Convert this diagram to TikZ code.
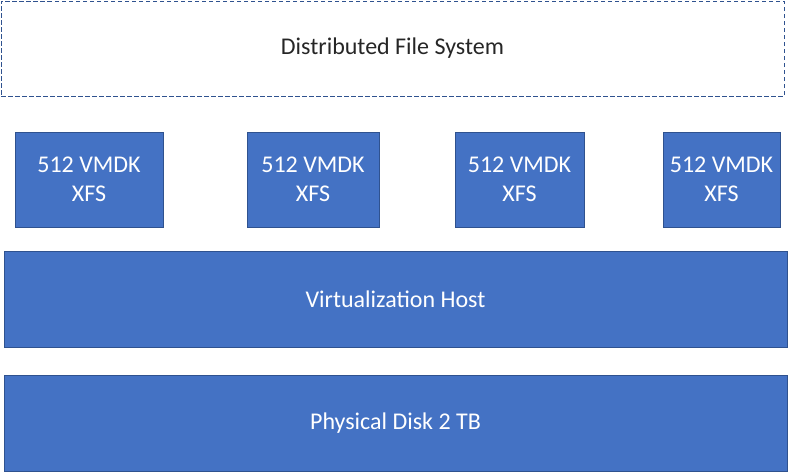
\documentclass[tikz,border=0pt]{standalone}
\usepackage{fontspec}
\setmainfont{Carlito}
\definecolor{boxfill}{HTML}{4472C4}
\definecolor{boxline}{HTML}{2F528F}
\begin{document}
\begin{tikzpicture}[x=1pt,y=-1pt,
  every node/.style={inner sep=0pt,outer sep=0pt,font=\fontsize{24}{29}\selectfont,align=center},
  bluebox/.style={draw=boxline,fill=boxfill,line width=1pt,text=white,rectangle},
  dfsbox/.style={draw=boxline,line width=1pt,dash pattern=on 4.5pt off 2.5pt,text=black!85,rectangle}]
  \useasboundingbox (0,0) rectangle (793,472);
  % distributed file system layer
  \node[dfsbox,minimum width=783,minimum height=95] (dfs) at (392.5,48.5) {\raisebox{-1.5pt}{Distributed File System}};
  % virtual disks
  \node[bluebox,minimum width=148,minimum height=95] (v1) at (89,179.5) {512 VMDK\\XFS};
  \node[bluebox,minimum width=132,minimum height=95] (v2) at (313,179.5) {512 VMDK\\XFS};
  \node[bluebox,minimum width=129,minimum height=95] (v3) at (519.5,179.5) {512 VMDK\\XFS};
  \node[bluebox,minimum width=117,minimum height=95] (v4) at (721.5,179.5) {512 VMDK\\XFS};
  % host and hardware layers
  \node[bluebox,minimum width=783,minimum height=96] (host) at (395.5,299) {Virtualization Host};
  \node[bluebox,minimum width=783,minimum height=96] (disk) at (395.5,423) {Physical Disk 2 TB};
\end{tikzpicture}
\end{document}
